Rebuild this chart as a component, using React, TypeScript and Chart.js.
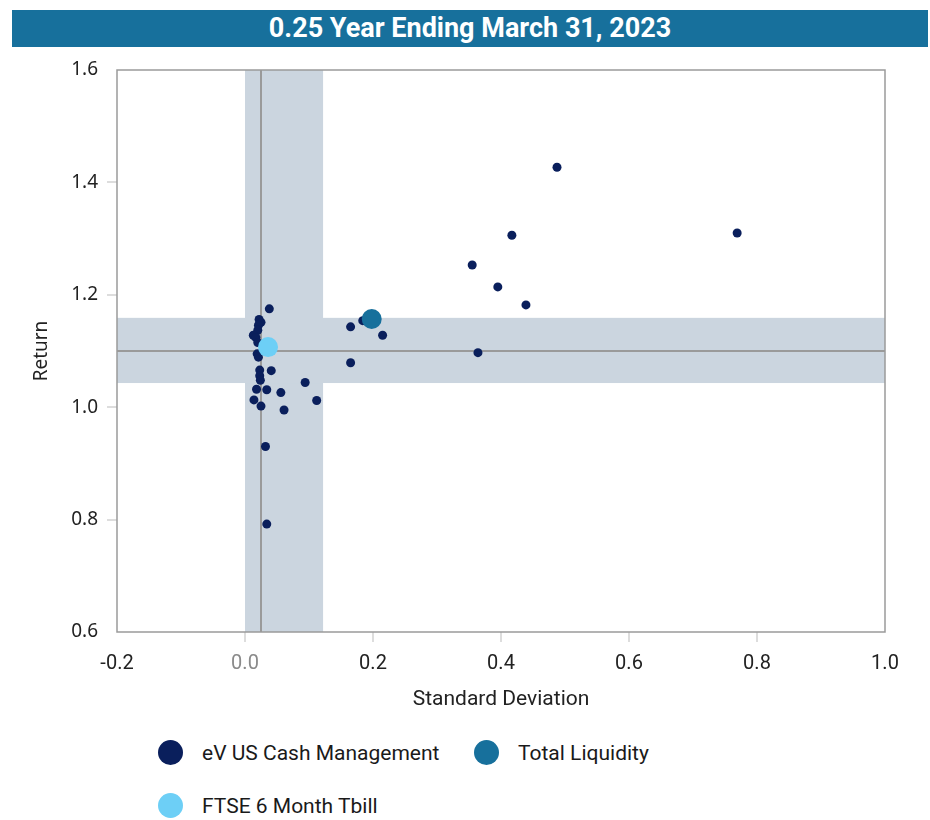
import React, { useEffect, useRef } from "react";
import { Chart, registerables } from "chart.js";

Chart.register(...registerables);

const titleText = "0.25 Year Ending March 31, 2023";
const xAxisTitle = "Standard Deviation";
const yAxisTitle = "Return";

const universeName = "eV US Cash Management";
const universePoints: [number, number][] = [
  [0.038, 1.175], [0.022, 1.156], [0.025, 1.151], [0.021, 1.146], [0.020, 1.137],
  [0.013, 1.128], [0.017, 1.124], [0.020, 1.115], [0.019, 1.095], [0.021, 1.089],
  [0.023, 1.066], [0.041, 1.065], [0.023, 1.056], [0.024, 1.048], [0.018, 1.032],
  [0.034, 1.031], [0.056, 1.026], [0.014, 1.013], [0.025, 1.002], [0.061, 0.995],
  [0.032, 0.930], [0.034, 0.792], [0.094, 1.044], [0.112, 1.012], [0.165, 1.143],
  [0.184, 1.154], [0.215, 1.128], [0.165, 1.079], [0.364, 1.097], [0.355, 1.253],
  [0.395, 1.214], [0.439, 1.182], [0.417, 1.306], [0.4875, 1.427], [0.769, 1.310],
];

const portfolioName = "Total Liquidity";
const portfolioPoint: [number, number][] = [[0.198, 1.157]];

const benchmarkName = "FTSE 6 Month Tbill";
const benchmarkPoint: [number, number][] = [[0.036, 1.107]];

// quartile bands and medians
const xBand = [0.0, 0.122];
const yBand = [1.043, 1.159];
const xMedian = 0.025;
const yMedian = 1.1;

const xTicks = [-0.2, 0.0, 0.2, 0.4, 0.6, 0.8, 1.0];
const yTicks = [0.6, 0.8, 1.0, 1.2, 1.4, 1.6];

const colors = {
  universe: "#0a1f5c",
  portfolio: "#17709c",
  benchmark: "#6dcff6",
  band: "#cbd5df",
  line: "#9a9a9a",
};

const bandPlugin = {
  id: "bands",
  beforeDatasetsDraw(chart: any) {
    const { ctx, chartArea, scales } = chart;
    const x = scales.x;
    const y = scales.y;
    ctx.save();
    ctx.fillStyle = colors.band;
    const bx0 = x.getPixelForValue(xBand[0]);
    const bx1 = x.getPixelForValue(xBand[1]);
    ctx.fillRect(bx0, chartArea.top, bx1 - bx0, chartArea.bottom - chartArea.top);
    const by0 = y.getPixelForValue(yBand[1]);
    const by1 = y.getPixelForValue(yBand[0]);
    ctx.fillRect(chartArea.left, by0, chartArea.right - chartArea.left, by1 - by0);
    ctx.strokeStyle = colors.line;
    ctx.lineWidth = 2;
    const mx = x.getPixelForValue(xMedian);
    const my = y.getPixelForValue(yMedian);
    ctx.beginPath();
    ctx.moveTo(mx, chartArea.top);
    ctx.lineTo(mx, chartArea.bottom);
    ctx.moveTo(chartArea.left, my);
    ctx.lineTo(chartArea.right, my);
    ctx.stroke();
    ctx.restore();
  },
  afterDatasetsDraw(chart: any) {
    const { ctx, chartArea } = chart;
    ctx.save();
    ctx.strokeStyle = colors.line;
    ctx.lineWidth = 1.5;
    ctx.strokeRect(chartArea.left, chartArea.top, chartArea.right - chartArea.left, chartArea.bottom - chartArea.top);
    ctx.restore();
  },
};

const toXY = (arr: [number, number][]) => arr.map(([x, y]) => ({ x, y }));

export default function App() {
  const ref = useRef<HTMLCanvasElement | null>(null);

  useEffect(() => {
    if (!ref.current) return;
    const chart = new Chart(ref.current, {
      type: "scatter",
      data: {
        datasets: [
          {
            label: benchmarkName,
            data: toXY(benchmarkPoint),
            backgroundColor: colors.benchmark,
            borderWidth: 0,
            pointRadius: 10,
            order: 1,
          },
          {
            label: portfolioName,
            data: toXY(portfolioPoint),
            backgroundColor: colors.portfolio,
            borderWidth: 0,
            pointRadius: 10,
            order: 2,
          },
          {
            label: universeName,
            data: toXY(universePoints),
            backgroundColor: colors.universe,
            borderWidth: 0,
            pointRadius: 4.5,
            order: 3,
          },
        ],
      },
      options: {
        responsive: false,
        animation: false,
        layout: { padding: { top: 70, right: 45, left: 0, bottom: 0 } },
        plugins: {
          legend: { display: false },
          tooltip: { enabled: false },
        },
        scales: {
          x: {
            type: "linear",
            min: xTicks[0],
            max: xTicks[xTicks.length - 1],
            afterFit: (s: any) => { s.height = 88; },
            afterBuildTicks: (s: any) => { s.ticks = xTicks.map((v) => ({ value: v })); },
            ticks: {
              padding: 10,
              font: { family: "Roboto", size: 20 },
              color: (c: any) => (Math.abs(c.tick.value) < 1e-9 ? "#8a8a8a" : "#222222"),
              callback: (v: any) => Number(v).toFixed(1),
            },
            grid: {
              drawOnChartArea: false,
              drawTicks: true,
              tickLength: 10,
              lineWidth: 2,
              color: (c: any) => (c.index === 0 || c.index === xTicks.length - 1 ? "rgba(0,0,0,0)" : "#dddddd"),
            },
            border: { display: false },
            title: {
              display: true,
              text: xAxisTitle,
              font: { family: "Roboto", size: 21 },
              color: "#222222",
              padding: { top: 0, bottom: 8 },
            },
          },
          y: {
            type: "linear",
            min: yTicks[0],
            max: yTicks[yTicks.length - 1],
            afterFit: (s: any) => { s.width = 117; },
            afterBuildTicks: (s: any) => { s.ticks = yTicks.map((v) => ({ value: v })); },
            ticks: {
              padding: 9,
              font: { family: "Noto Sans", size: 19 },
              color: "#222222",
              callback: (v: any) => Number(v).toFixed(1),
            },
            grid: {
              drawOnChartArea: false,
              drawTicks: true,
              tickLength: 10,
              lineWidth: 2,
              color: (c: any) => (c.index === 0 || c.index === yTicks.length - 1 ? "rgba(0,0,0,0)" : "#dddddd"),
            },
            border: { display: false },
            title: {
              display: true,
              text: yAxisTitle,
              font: { family: "Noto Sans", size: 19 },
              color: "#222222",
              padding: { top: 30, bottom: 0 },
            },
          },
        },
      },
      plugins: [bandPlugin],
    });
    return () => chart.destroy();
  }, []);

  const legendItem = (label: string, color: string, left: number, top: number) => (
    <div
      key={label}
      style={{
        position: "absolute",
        left,
        top,
        height: 25,
        display: "flex",
        alignItems: "center",
        fontFamily: "Roboto",
        fontSize: 21,
        color: "#1a1a1a",
        whiteSpace: "nowrap",
      }}
    >
      <span
        style={{
          display: "inline-block",
          width: 25,
          height: 25,
          borderRadius: "50%",
          background: color,
          marginRight: 19,
          flex: "none",
        }}
      />
      {label}
    </div>
  );

  return (
    <div style={{ position: "absolute", left: 0, top: 0, width: 930, height: 820, background: "#fff" }}>
      <div
        style={{
          position: "absolute",
          left: 12,
          top: 10,
          width: 916,
          height: 37,
          background: colors.portfolio,
          color: "#ffffff",
          fontFamily: "Roboto",
          fontWeight: 700,
          fontSize: 27,
          lineHeight: "37px",
          textAlign: "center",
        }}
      >
        {titleText}
      </div>
      <canvas ref={ref} width={930} height={720} style={{ position: "absolute", left: 0, top: 0 }} />
      {legendItem(universeName, colors.universe, 158, 740)}
      {legendItem(portfolioName, colors.portfolio, 474, 740)}
      {legendItem(benchmarkName, colors.benchmark, 158, 793)}
    </div>
  );
}
